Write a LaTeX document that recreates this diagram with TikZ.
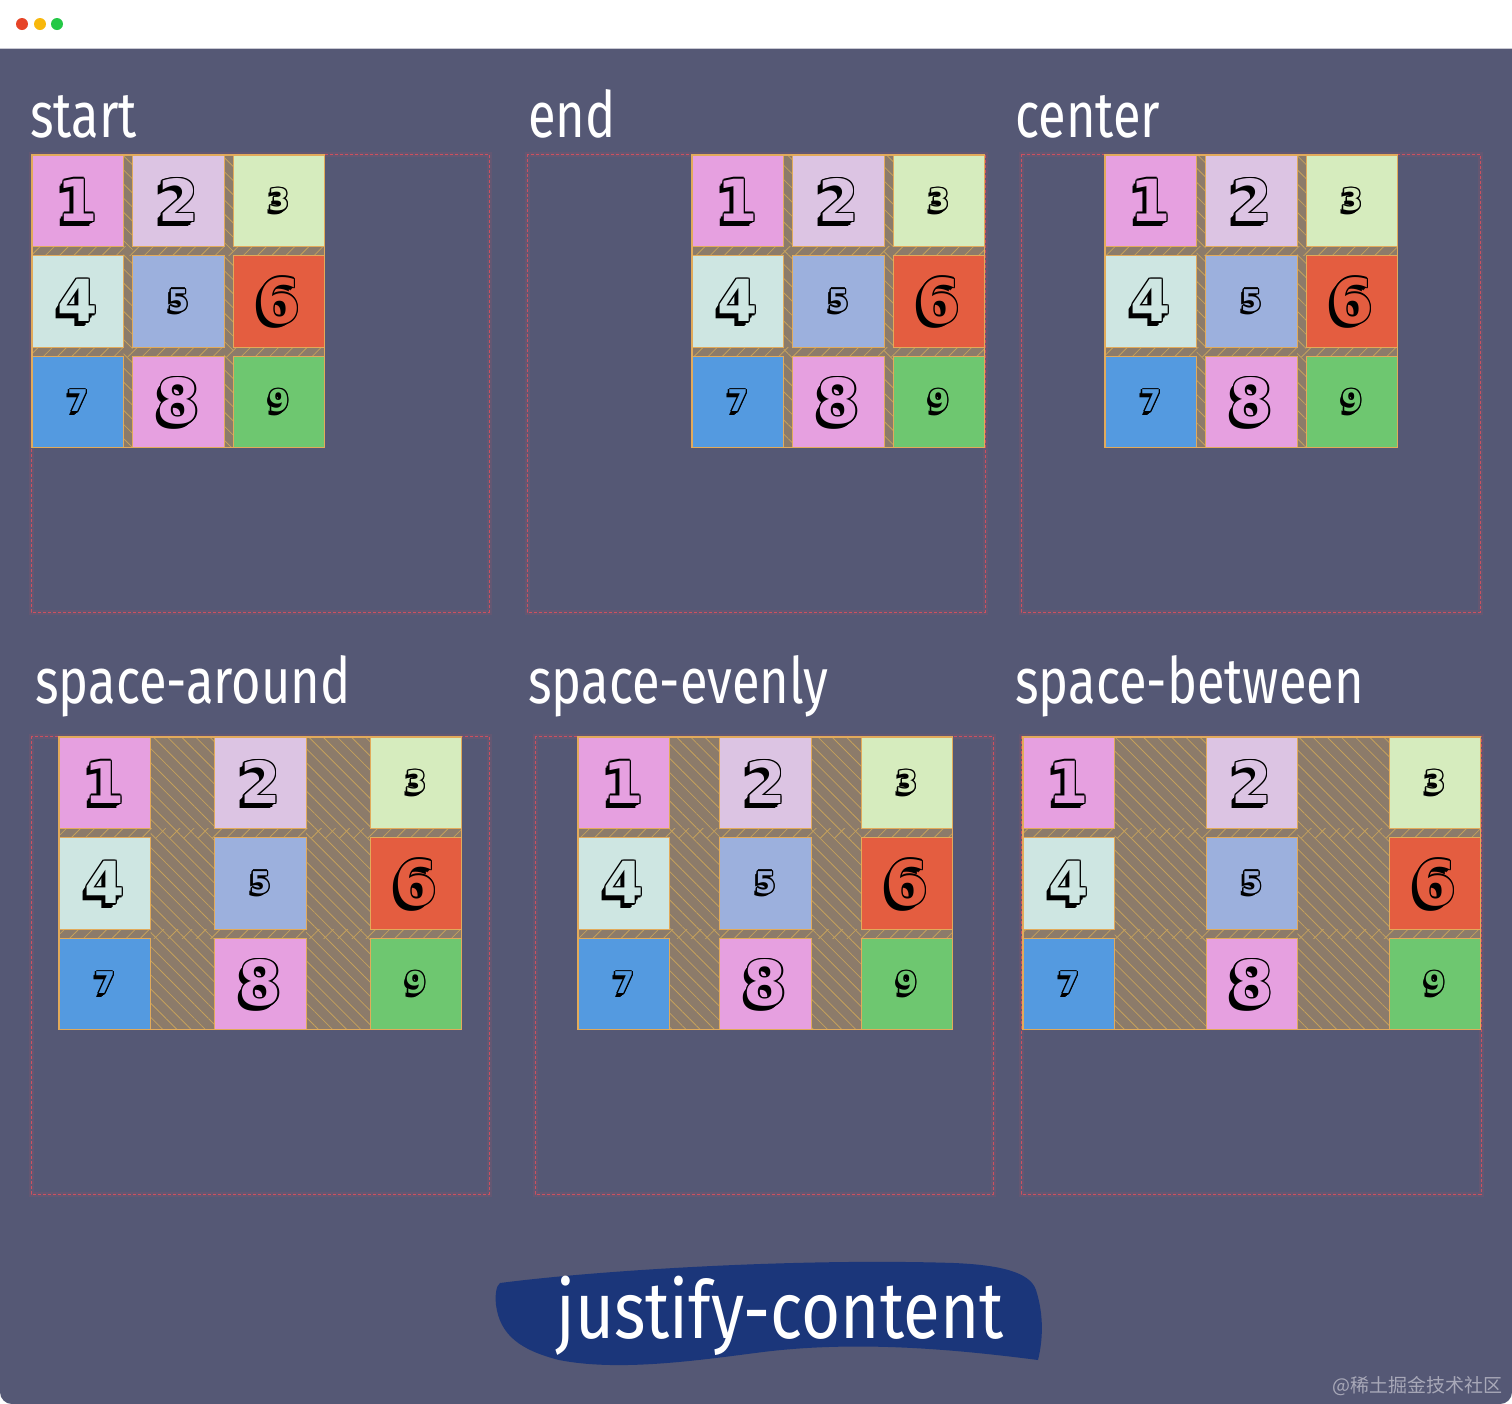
\documentclass[tikz,border=0pt]{standalone}
\usepackage{fontspec}
\setmainfont{Fira Sans}
\newfontfamily\digitfont{DejaVu Sans}
\newfontfamily\cjkfont{Noto Sans CJK SC}
\usepackage{contour}
\contourlength{0.7pt}
\contournumber{8}
\usetikzlibrary{patterns.meta}

\tikzset{
    title/.style={text=white, font=\fontsize{32}{32}\selectfont, inner sep=0pt, xscale=0.79},
    boxborder/.style={draw=boxline, line width=0.5pt, dash pattern=on 1.5pt off 1pt},
    boxglow/.style={draw=boxline, line width=2.5pt, opacity=0.12},
    cellbox/.style={draw=gridline, line width=0.3pt, minimum size=45.75pt, inner sep=0pt},
    digit/.style={font=\digitfont\bfseries\fontsize{#1}{#1}\selectfont, inner sep=0pt},
    colgap/.style={pattern={Lines[angle=-45,distance=5pt,line width=0.4pt]}, pattern color=hatch},
    rowgap/.style={pattern={Lines[angle=45,distance=5pt,line width=0.4pt]}, pattern color=hatch}
}

\begin{document}
\begin{tikzpicture}[x=0.5pt,y=-0.5pt]
    % Define colors
    \definecolor{winbg}{RGB}{85,88,117}
    \definecolor{barline}{RGB}{200,200,210}
    \definecolor{dotred}{RGB}{230,68,40}
    \definecolor{dotyellow}{RGB}{248,184,12}
    \definecolor{dotgreen}{RGB}{36,200,70}
    \definecolor{boxline}{RGB}{205,80,95}
    \definecolor{gridline}{RGB}{226,170,90}
    \definecolor{gapfill}{RGB}{140,123,106}
    \definecolor{hatch}{RGB}{196,160,92}
    \definecolor{banner}{RGB}{27,54,122}
    \definecolor{mark}{RGB}{168,168,184}
    \definecolor{c1}{RGB}{230,160,224}
    \definecolor{c2}{RGB}{220,196,227}
    \definecolor{c3}{RGB}{214,236,190}
    \definecolor{c4}{RGB}{206,230,226}
    \definecolor{c5}{RGB}{156,176,221}
    \definecolor{c6}{RGB}{228,93,64}
    \definecolor{c7}{RGB}{84,154,224}
    \definecolor{c8}{RGB}{230,160,224}
    \definecolor{c9}{RGB}{110,199,112}

    \useasboundingbox (0,0) rectangle (1512,1404);

    % Window
    \fill[white] (0,0) rectangle (1512,1404);
    \fill[winbg, rounded corners=6pt] (0,49) rectangle (1512,1404);
    \fill[winbg] (0,49) rectangle (1512,80);
    \draw[barline] (0,48.5) -- (1512,48.5);
    \fill[dotred] (22,24) circle[radius=3pt];
    \fill[dotyellow] (40,24) circle[radius=3pt];
    \fill[dotgreen] (57,24) circle[radius=3pt];

    % Panels
    \foreach \pn/\lbl/\lx/\ly/\bx/\by/\bw/\cx/\dx/\cy in {
        start/start/30/137/31/154/458/32/100.5/155,
        end/end/528/137/527/154/458/692/100.5/155,
        center/center/1015/137/1021/154/459/1105/100.5/155,
        around/space-around/35/703/31/736/458/59/155.5/737,
        evenly/space-evenly/528/703/535/736/458/578/141.5/737,
        between/space-between/1015/703/1021/736/460/1023/183/737} {
        % title and container
        \node[title, anchor=base west] (\pn-title) at (\lx,\ly) {\lbl};
        \draw[boxglow] (\bx,\by) rectangle ++(\bw,458);
        \draw[boxborder] (\bx,\by) rectangle ++(\bw,458);
        % gaps
        \fill[gapfill] (\cx,\cy) rectangle ({\cx+2*\dx+91.5},{\cy+292.5});
        \foreach \k in {1,2} {
            \fill[colgap] ({\cx+\k*\dx-\dx+91.5},\cy) rectangle ({\cx+\k*\dx},{\cy+292.5});
            \fill[rowgap] (\cx,{\cy+\k*100.5-9}) rectangle ({\cx+2*\dx+91.5},{\cy+\k*100.5});
        }
        % items
        \foreach \n/\c/\r/\fs/\sh in {1/1/1/29/3, 2/2/1/29/3, 3/3/1/15/2, 4/1/2/29/3, 5/2/2/15/2,
                6/3/2/31/3, 7/1/3/15/2, 8/2/3/31/3, 9/3/3/15/2} {
            \node[cellbox, fill=c\n] (\pn-\n) at ({\cx+(\c-1)*\dx+45.75},{\cy+(\r-1)*100.5+45.75}) {};
            \foreach \s in {1,...,\sh}
                \node[digit=\fs, text=black, xshift={-0.7pt*\s}, yshift={-0.7pt*\s}] at (\pn-\n) {\n};
            \node[digit=\fs, text=c\n] (\pn-\n-d) at (\pn-\n) {\contour{black}{\n}};
        }
        \draw[gridline, line width=0.6pt] (\cx,\cy) rectangle ({\cx+2*\dx+91.5},{\cy+292.5});
    }

    % Banner
    \fill[banner] (500,1283) .. controls (600,1270) and (800,1258) .. (954,1263)
        .. controls (1000,1265) and (1030,1272) .. (1036,1290)
        .. controls (1044,1315) and (1043,1340) .. (1038,1360)
        .. controls (960,1350) and (860,1340) .. (763,1352)
        .. controls (700,1360) and (620,1372) .. (559,1360)
        .. controls (520,1350) and (500,1335) .. (496,1305)
        .. controls (495,1295) and (496,1286) .. (500,1283) -- cycle;
    \node[anchor=base west, text=white, font=\fontsize{40}{40}\selectfont, inner sep=0pt, xscale=0.84]
        (banner-text) at (556,1338) {justify-content};

    % Watermark
    \node[anchor=base east, text=mark, font=\cjkfont\fontsize{9.5}{9.5}\selectfont, inner sep=0pt]
        (watermark) at (1503,1392) {@稀土掘金技术社区};
\end{tikzpicture}
\end{document}
